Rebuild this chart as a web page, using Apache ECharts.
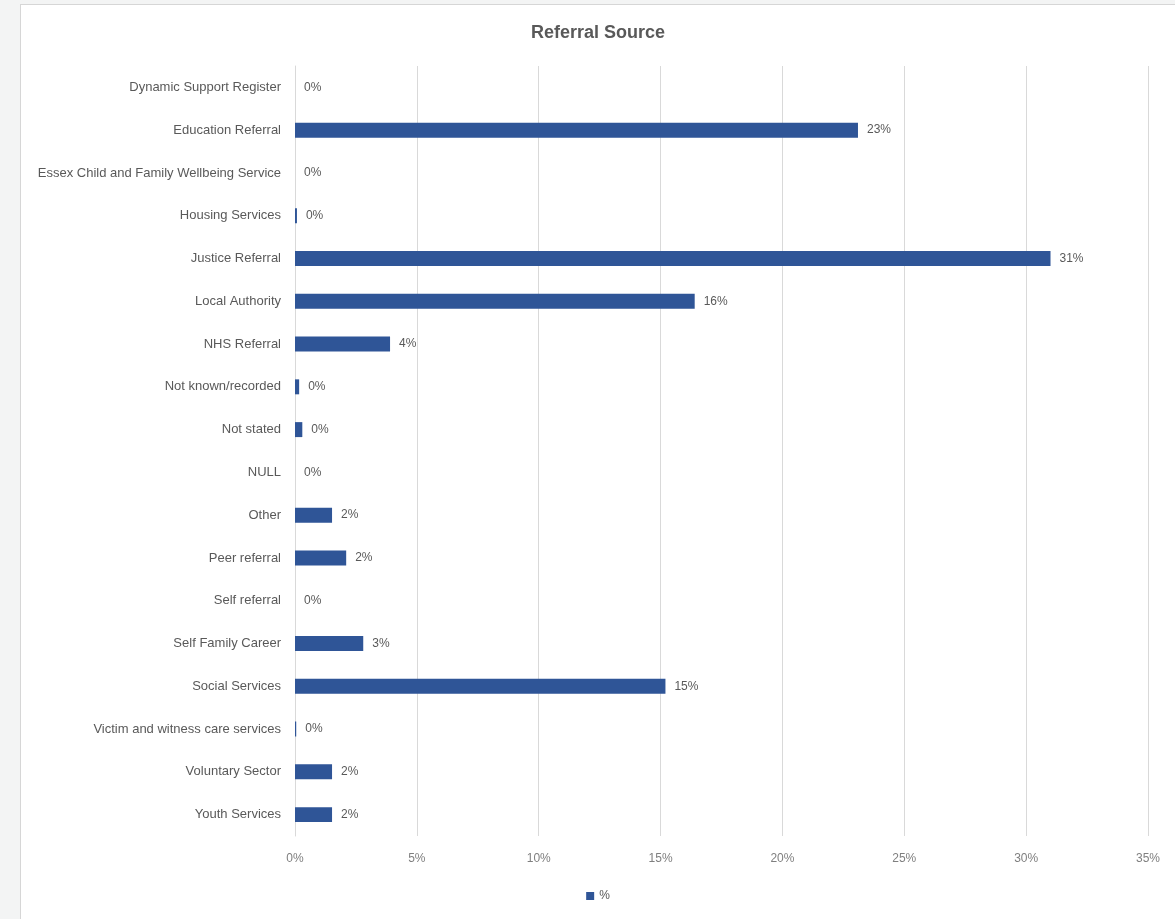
<!DOCTYPE html>
<html>
<head>
<meta charset="utf-8">
<script src="https://cdn.jsdelivr.net/npm/echarts@6/dist/echarts.min.js"></script>
<style>
html,body{margin:0;padding:0;background:#f3f4f4;width:1175px;height:919px;overflow:hidden;}
#chart{position:absolute;left:20px;top:4px;width:1155px;height:915px;background:#fff;border-left:1px solid #d6d6d6;border-top:1px solid #d6d6d6;box-sizing:border-box;}
</style>
</head>
<body>
<div id="chart"></div>
<script>
const categories = [
  "Dynamic Support Register",
  "Education Referral",
  "Essex Child and Family Wellbeing Service",
  "Housing Services",
  "Justice Referral",
  "Local Authority",
  "NHS Referral",
  "Not known/recorded",
  "Not stated",
  "NULL",
  "Other",
  "Peer referral",
  "Self referral",
  "Self Family Career",
  "Social Services",
  "Victim and witness care services",
  "Voluntary Sector",
  "Youth Services"
];
const values = [0, 23.1, 0, 0.08, 31.0, 16.4, 3.9, 0.17, 0.3, 0, 1.52, 2.1, 0, 2.8, 15.2, 0.05, 1.52, 1.52];
const xTicks = [0, 5, 10, 15, 20, 25, 30, 35];

const chart = echarts.init(document.getElementById('chart'));
chart.setOption({
  animation: false,
  textStyle: {fontFamily: 'Liberation Sans, Arial, sans-serif'},
  title: {
    text: 'Referral Source',
    left: 'center',
    top: 14,
    textStyle: {fontSize: 18, fontWeight: 'bold', color: '#595959'}
  },
  legend: {
    data: ['%'],
    bottom: 12,
    left: 'center',
    icon: 'rect',
    itemWidth: 8,
    itemHeight: 8,
    itemGap: 4,
    textStyle: {color: '#595959', fontSize: 12}
  },
  grid: {left: 274, right: 27, top: 61, bottom: 83, containLabel: false},
  xAxis: {
    type: 'value',
    min: xTicks[0],
    max: xTicks[xTicks.length - 1],
    interval: 5,
    axisLine: {show: false},
    axisTick: {show: false},
    splitLine: {lineStyle: {color: '#d9d9d9', width: 1}},
    axisLabel: {formatter: '{value}%', color: '#7f7f7f', fontSize: 12, margin: 17}
  },
  yAxis: {
    type: 'category',
    data: categories,
    inverse: true,
    axisLine: {lineStyle: {color: '#d9d9d9'}},
    axisTick: {show: false},
    axisLabel: {color: '#595959', fontSize: 13, margin: 14, padding: [3, 0, 0, 0]}
  },
  series: [{
    name: '%',
    type: 'bar',
    data: values,
    barWidth: '35%',
    itemStyle: {color: '#2F5597'},
    label: {
      show: true,
      position: 'right',
      distance: 9,
      color: '#595959',
      fontSize: 12,
      padding: [3, 0, 0, 0],
      formatter: p => Math.round(p.value) + '%'
    }
  }]
});
</script>
</body>
</html>
